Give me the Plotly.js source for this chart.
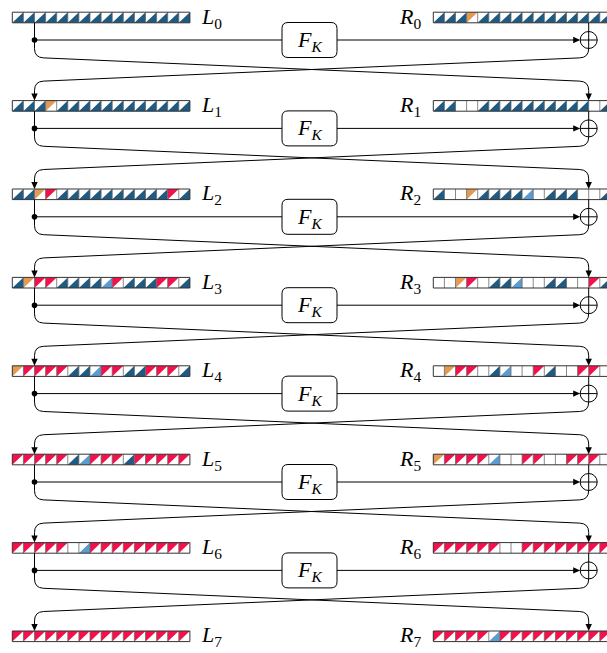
<!DOCTYPE html>
<html><head><meta charset="utf-8">
<script src="https://cdn.plot.ly/plotly-3.0.1.min.js"></script>
<style>html,body{margin:0;padding:0;background:#fff}</style>
</head><body>
<div id="chart" style="width:607px;height:653px"></div>
<script>
// ---- data ----
const rounds = [0,1,2,3,4,5,6,7];
const leftLabels  = ['L','L','L','L','L','L','L','L'];
const rightLabels = ['R','R','R','R','R','R','R','R'];
// cell codes: B dark blue, b light blue, O orange, R red, W empty
const leftStates = [
  'BBBBBBBBBBBBBBBB',
  'BBBOBBBBBBBBBBBB',
  'BBORBBBBBBBBBBRB',
  'BORRBBBBbRBBBRRB',
  'ORRRRBBbRRBBRRRB',
  'RRRRRBbRRRBRRRRR',
  'RRRRRWbRRRRRRRRR',
  'RRRRRRRRRRRRRRRR'
];
const rightStates = [
  'BBBOBBBBBBBBBBBB',
  'BBWWBBBBBBBBBBWB',
  'BWWOBBBBbWBBBWWB',
  'WWORWBBbWWBBWWRB',
  'WORRWBbWWRBWWRRW',
  'ORRRRbWWRRWWRRRW',
  'RRRRRRWWRRRRRRRR',
  'RRRRRbRRRRRRRRRR'
];
const funcLabel = 'F';
const keyLabel = 'K';

// ---- style / layout constants ----
const COLORS = {B:'#1f5a82', b:'#5b9bd0', O:'#e39a52', R:'#f5104c'};
const LOWER = {B:true, b:true, O:false, R:false};
const W = 607, H = 653;
const X0L = 12.3, X0R = 433.3, CW = 11.1, CH = 10.6;
const Y0 = 17.5, DY = 88.4;
const XL = X0L + 2*CW, XR = X0R + 14*CW;
const FX = 309.5, FW = 55, FH = 35, FOFF = 22.5;
const FONT = {family:'Liberation Serif', size:22, color:'#000'};
const rowY = i => Y0 + DY*i;

const traces = [];
const tri = {B:{x:[],y:[]}, b:{x:[],y:[]}, O:{x:[],y:[]}, R:{x:[],y:[]}};
const grid = {x:[],y:[]}, outline = {x:[],y:[]};
function addBar(x0, yc, code){
  const yt = yc - CH/2, yb = yc + CH/2;
  for (let j=0;j<code.length;j++){
    const c = code[j]; const a = x0 + j*CW, b = a + CW;
    if (COLORS[c]){
      const t = tri[c];
      if (LOWER[c]) { t.x.push(a,b,b,null); t.y.push(yb,yb,yt,null); }
      else { t.x.push(a,b,a,null); t.y.push(yt,yt,yb,null); }
    }
    if (j>0){ grid.x.push(a,a,null); grid.y.push(yt,yb,null); }
  }
  const xe = x0 + code.length*CW;
  outline.x.push(x0,xe,xe,x0,x0,null); outline.y.push(yt,yt,yb,yb,yt,null);
}
rounds.forEach(i => { addBar(X0L,rowY(i),leftStates[i]); addBar(X0R,rowY(i),rightStates[i]); });
Object.keys(tri).forEach(k => traces.push({type:'scatter',mode:'lines',x:tri[k].x,y:tri[k].y,fill:'toself',fillcolor:COLORS[k],line:{width:0,color:COLORS[k]},hoverinfo:'skip',showlegend:false}));
traces.push({type:'scatter',mode:'lines',x:grid.x,y:grid.y,line:{width:0.8,color:'#6a6a6a'},hoverinfo:'skip',showlegend:false});
traces.push({type:'scatter',mode:'lines',x:outline.x,y:outline.y,line:{width:1,color:'#333'},hoverinfo:'skip',showlegend:false});

const shapes = [], annotations = [];
const LN = {color:'#000', width:1};
function arrowDown(x,y){ shapes.push({type:'path',path:`M ${x},${y} L ${x-3.2},${y-7} L ${x+3.2},${y-7} Z`,fillcolor:'#000',line:{width:0},xref:'x',yref:'y'}); }
function arrowRight(x,y){ shapes.push({type:'path',path:`M ${x},${y} L ${x-7},${y-3.2} L ${x-7},${y+3.2} Z`,fillcolor:'#000',line:{width:0},xref:'x',yref:'y'}); }
const r = 9, CR = 8.5;
rounds.slice(0,7).forEach(i => {
  const y = rowY(i), yb = y + CH/2, yn = rowY(i+1) - CH/2, yf = y + FOFF;
  const ya = y + 40, yc = y + 64, s = (yc-ya)/(XR-XL);
  shapes.push({type:'path',xref:'x',yref:'y',line:LN,path:`M ${XL},${yb} L ${XL},${ya-r} Q ${XL},${ya} ${XL+r},${ya+r*s} L ${XR-r},${yc-r*s} Q ${XR},${yc} ${XR},${yc+r} L ${XR},${yn-6}`});
  shapes.push({type:'path',xref:'x',yref:'y',line:LN,path:`M ${XR},${yb} L ${XR},${ya-r} Q ${XR},${ya} ${XR-r},${ya+r*s} L ${XL+r},${yc-r*s} Q ${XL},${yc} ${XL},${yc+r} L ${XL},${yn-6}`});
  arrowDown(XL, yn); arrowDown(XR, yn);
  shapes.push({type:'line',xref:'x',yref:'y',x0:XL,x1:XR-CR-6,y0:yf,y1:yf,line:LN});
  arrowRight(XR-CR, yf);
  shapes.push({type:'circle',xref:'x',yref:'y',x0:XR-CR,x1:XR+CR,y0:yf-CR,y1:yf+CR,line:LN,fillcolor:'rgba(0,0,0,0)'});
  shapes.push({type:'line',xref:'x',yref:'y',x0:XR-CR,x1:XR+CR,y0:yf,y1:yf,line:LN});
  shapes.push({type:'circle',xref:'x',yref:'y',x0:XL-2.8,x1:XL+2.8,y0:yf-2.8,y1:yf+2.8,line:{width:0},fillcolor:'#000'});
  const bx0 = FX-FW/2, bx1 = FX+FW/2, by0 = yf-FH/2, by1 = yf+FH/2, q = 6;
  shapes.push({type:'path',xref:'x',yref:'y',line:LN,fillcolor:'#fff',path:`M ${bx0+q},${by0} L ${bx1-q},${by0} Q ${bx1},${by0} ${bx1},${by0+q} L ${bx1},${by1-q} Q ${bx1},${by1} ${bx1-q},${by1} L ${bx0+q},${by1} Q ${bx0},${by1} ${bx0},${by1-q} L ${bx0},${by0+q} Q ${bx0},${by0} ${bx0+q},${by0} Z`});
  annotations.push({x:FX,y:yf+1,xref:'x',yref:'y',showarrow:false,text:`<i>${funcLabel}</i><sub><i>${keyLabel}</i></sub>`,font:FONT});
});
rounds.forEach(i => {
  const y = rowY(i);
  annotations.push({x:199,y:y,xref:'x',yref:'y',xanchor:'left',showarrow:false,text:`<i>${leftLabels[i]}</i><sub>${i}</sub>`,font:FONT});
  annotations.push({x:423,y:y,xref:'x',yref:'y',xanchor:'right',showarrow:false,text:`<i>${rightLabels[i]}</i><sub>${i}</sub>`,font:FONT});
});

Plotly.newPlot('chart', traces, {
  width:W, height:H, margin:{l:0,r:0,t:0,b:0},
  paper_bgcolor:'#fff', plot_bgcolor:'#fff',
  xaxis:{range:[0,W],visible:false,fixedrange:true},
  yaxis:{range:[H,0],visible:false,fixedrange:true},
  shapes:shapes, annotations:annotations, showlegend:false
}, {displayModeBar:false, staticPlot:true});
</script>
</body></html>
